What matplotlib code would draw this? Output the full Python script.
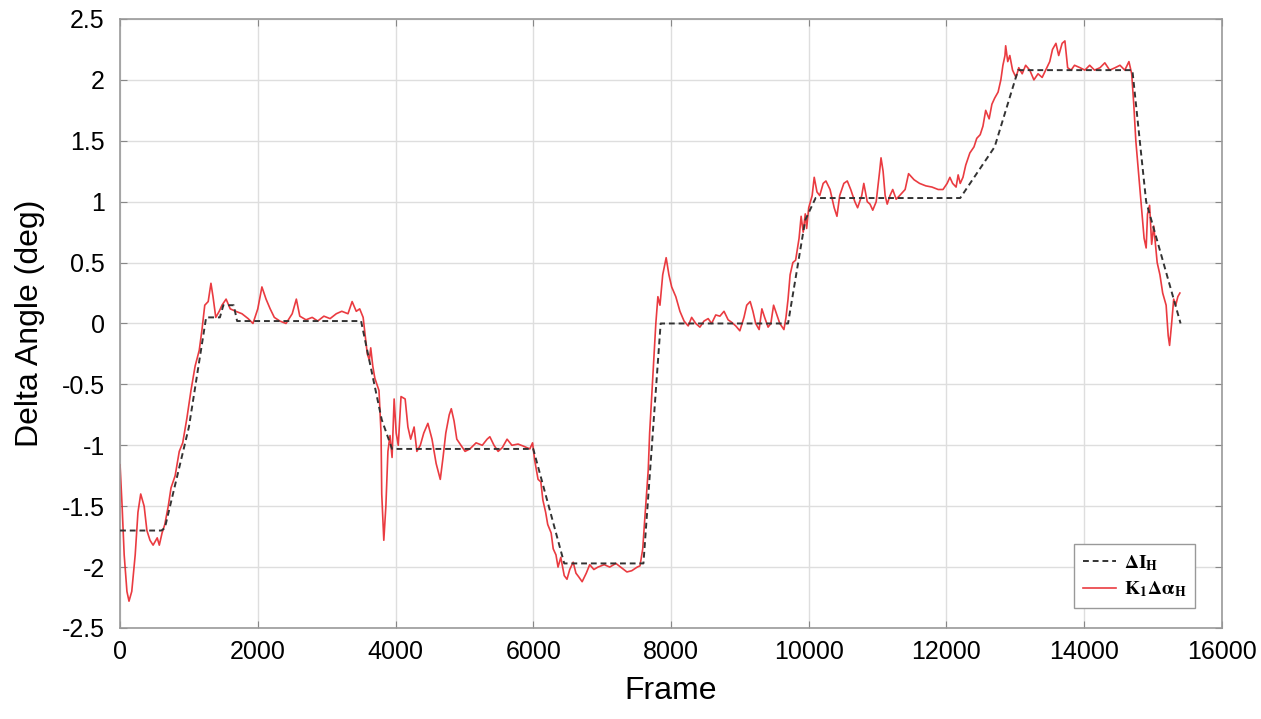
import numpy as np
import matplotlib
matplotlib.use('Agg')
import matplotlib.pyplot as plt

# Reference angle (dashed) breakpoints
ref_frames = [0, 600, 650, 1000, 1250, 1450, 1500, 1650, 1700, 3500, 3800, 3950,
              6000, 6450, 7600, 7850, 9700, 9950, 10100, 12200, 12700, 13040,
              14700, 14900, 15100, 15400]
ref_values = [-1.70, -1.70, -1.68, -0.85, 0.05, 0.05, 0.15, 0.15, 0.02, 0.02, -0.79, -1.03,
              -1.03, -1.97, -1.97, 0.0, 0.0, 0.85, 1.03, 1.03, 1.45, 2.08,
              2.08, 1.0, 0.6, 0.0]

meas_frames = [0, 30, 60, 100, 130, 170, 220, 260, 300, 350, 390, 435, 480, 540, 570, 610,
               650, 700, 740, 800, 860, 910, 970, 1030, 1090, 1150, 1190, 1230, 1280, 1320,
               1350, 1390, 1440, 1480, 1540, 1600, 1680, 1770, 1860, 1930, 2000, 2060, 2120,
               2180, 2240, 2320, 2410, 2500, 2560, 2610, 2700, 2790, 2870, 2960, 3050, 3140,
               3220, 3310, 3370, 3430, 3480, 3530, 3560, 3590, 3620, 3640, 3670, 3700, 3730,
               3760, 3790, 3800, 3830, 3860, 3890, 3920, 3950, 3980, 4010, 4040, 4080, 4140,
               4180, 4220, 4270, 4310, 4360, 4410, 4470, 4530, 4590, 4650, 4690, 4730, 4780,
               4810, 4850, 4890, 4950, 5010, 5080, 5170, 5260, 5330, 5370, 5430, 5490, 5550,
               5620, 5690, 5780, 5870, 5950, 5990, 6020, 6070, 6110, 6140, 6180, 6210, 6260,
               6290, 6330, 6360, 6400, 6450, 6490, 6530, 6580, 6620, 6660, 6710, 6770, 6820,
               6880, 6940, 7030, 7110, 7200, 7290, 7360, 7430, 7510, 7550, 7590, 7620, 7670,
               7690, 7720, 7750, 7780, 7810, 7840, 7880, 7930, 7970, 8010, 8070, 8130, 8190,
               8250, 8300, 8360, 8420, 8480, 8540, 8590, 8650, 8710, 8770, 8830, 8880, 8940,
               9000, 9060, 9100, 9150, 9190, 9230, 9280, 9320, 9360, 9410, 9450, 9490, 9580,
               9640, 9670, 9700, 9730, 9770, 9810, 9860, 9890, 9920, 9950, 9970, 10000, 10050,
               10080, 10120, 10160, 10210, 10250, 10310, 10370, 10410, 10450, 10510, 10560,
               10610, 10670, 10710, 10770, 10800, 10850, 10890, 10930, 10980, 11000, 11030,
               11050, 11080, 11110, 11140, 11180, 11220, 11270, 11320, 11400, 11450, 11530,
               11610, 11700, 11790, 11880, 11950, 12010, 12050, 12090, 12140, 12170, 12200,
               12240, 12280, 12340, 12400, 12440, 12490, 12530, 12570, 12620, 12660, 12700,
               12750, 12790, 12820, 12850, 12860, 12890, 12920, 12960, 13010, 13050, 13100,
               13150, 13210, 13270, 13330, 13390, 13440, 13500, 13540, 13590, 13630, 13680,
               13720, 13760, 13810, 13860, 13940, 14010, 14080, 14150, 14230, 14300, 14370,
               14450, 14520, 14590, 14650, 14690, 14720, 14750, 14780, 14810, 14840, 14870,
               14900, 14920, 14950, 14980, 15010, 15060, 15100, 15140, 15190, 15220, 15240,
               15270, 15300, 15330, 15360, 15390]
meas_values = [-1.16, -1.5, -1.9, -2.2, -2.28, -2.2, -1.9, -1.55, -1.40, -1.5, -1.7, -1.78,
               -1.82, -1.76, -1.82, -1.72, -1.65, -1.5, -1.35, -1.25, -1.05, -0.98, -0.78,
               -0.55, -0.35, -0.22, -0.05, 0.15, 0.18, 0.33, 0.22, 0.05, 0.1, 0.15, 0.2, 0.12,
               0.1, 0.08, 0.04, 0.0, 0.12, 0.3, 0.2, 0.12, 0.05, 0.02, 0.0, 0.08, 0.2, 0.06,
               0.03, 0.05, 0.02, 0.06, 0.04, 0.08, 0.1, 0.08, 0.18, 0.1, 0.12, 0.05, -0.1,
               -0.25, -0.3, -0.2, -0.35, -0.45, -0.5, -0.55, -0.9, -1.4, -1.78, -1.5, -1.05,
               -0.92, -1.1, -0.62, -0.9, -1.0, -0.6, -0.62, -0.85, -0.95, -0.85, -1.05, -1.0,
               -0.9, -0.82, -0.95, -1.15, -1.28, -1.1, -0.9, -0.75, -0.7, -0.8, -0.95, -1.0,
               -1.05, -1.03, -0.98, -1.0, -0.95, -0.93, -1.0, -1.05, -1.02, -0.95, -1.0, -0.99,
               -1.01, -1.03, -0.98, -1.12, -1.28, -1.3, -1.45, -1.55, -1.65, -1.72, -1.85,
               -1.9, -2.0, -1.92, -2.07, -2.1, -2.02, -1.96, -2.05, -2.08, -2.12, -2.05, -1.98,
               -2.02, -2.0, -1.98, -2.0, -1.97, -2.01, -2.04, -2.03, -2.0, -1.99, -1.85, -1.6,
               -1.2, -0.9, -0.6, -0.3, 0.0, 0.22, 0.15, 0.4, 0.54, 0.4, 0.3, 0.22, 0.1, 0.02,
               -0.02, 0.05, 0.0, -0.03, 0.02, 0.04, 0.0, 0.07, 0.06, 0.1, 0.03, 0.01, -0.02,
               -0.06, 0.05, 0.15, 0.18, 0.1, 0.0, -0.05, 0.12, 0.05, -0.03, 0.0, 0.15, 0.0,
               -0.05, 0.05, 0.2, 0.4, 0.5, 0.52, 0.7, 0.88, 0.75, 0.9, 0.78, 0.95, 1.05, 1.2,
               1.08, 1.05, 1.15, 1.17, 1.1, 0.95, 0.88, 1.05, 1.15, 1.17, 1.1, 1.0, 0.95, 1.05,
               1.15, 1.0, 0.98, 0.93, 1.0, 1.1, 1.25, 1.36, 1.25, 1.05, 0.98, 1.05, 1.1, 1.02,
               1.05, 1.1, 1.23, 1.18, 1.15, 1.13, 1.12, 1.1, 1.1, 1.15, 1.2, 1.15, 1.12, 1.22,
               1.15, 1.2, 1.3, 1.4, 1.45, 1.52, 1.55, 1.62, 1.75, 1.68, 1.8, 1.85, 1.9, 2.0,
               2.12, 2.2, 2.28, 2.15, 2.2, 2.08, 2.02, 2.1, 2.05, 2.12, 2.08, 2.0, 2.05, 2.02,
               2.08, 2.15, 2.25, 2.3, 2.2, 2.3, 2.32, 2.1, 2.08, 2.12, 2.1, 2.08, 2.12, 2.08,
               2.1, 2.14, 2.08, 2.1, 2.12, 2.08, 2.15, 2.05, 1.8, 1.5, 1.3, 1.1, 0.9, 0.7, 0.62,
               0.9, 0.97, 0.65, 0.8, 0.5, 0.4, 0.25, 0.15, -0.1, -0.18, 0.0, 0.2, 0.15, 0.22,
               0.25]

x_ticks = [0, 2000, 4000, 6000, 8000, 10000, 12000, 14000, 16000]
y_ticks = [-2.5, -2, -1.5, -1, -0.5, 0, 0.5, 1, 1.5, 2, 2.5]
y_labels = ['-2.5', '-2', '-1.5', '-1', '-0.5', '0', '0.5', '1', '1.5', '2', '2.5']

plt.rcParams['font.family'] = ['Liberation Sans', 'DejaVu Sans']
plt.rcParams['mathtext.fontset'] = 'stix'

fig = plt.figure(figsize=(12.61, 7.19), dpi=100)
ax = fig.add_axes([0.0952, 0.1266, 0.8738, 0.847])

ax.plot(ref_frames, ref_values, color='#333333', linestyle=(0, (3, 2)), linewidth=1.4,
        label=r'$\mathbf{\Delta I_H}$', zorder=3)
ax.plot(meas_frames, meas_values, color='#e8262c', linewidth=1.2, alpha=0.9,
        label=r'$\mathbf{K_1 \Delta \alpha_H}$', zorder=2)

ax.set_xlim(0, 16000)
ax.set_ylim(-2.5, 2.5)
ax.set_xticks(x_ticks)
ax.set_yticks(y_ticks)
ax.set_yticklabels(y_labels)
ax.grid(True, color='#dedede', linewidth=1.0)
ax.set_axisbelow(True)
for s in ax.spines.values():
    s.set_color('#9a9a9a')
    s.set_linewidth(1.2)
ax.tick_params(direction='in', length=5, color='#888888', labelsize=18,
               top=True, right=True)
ax.tick_params(axis='x', pad=9)
ax.tick_params(axis='y', pad=11)

ax.set_xlabel('Frame', fontsize=23, labelpad=8)
ax.set_ylabel('Delta Angle (deg)', fontsize=23, labelpad=12)

leg = ax.legend(loc='lower right', bbox_to_anchor=(0.9755, 0.033), borderaxespad=0,
                fontsize=14, fancybox=False, framealpha=1, edgecolor='#999999',
                handlelength=1.7, handletextpad=0.4, borderpad=0.45, labelspacing=0.35)
leg.get_frame().set_linewidth(1.0)

fig.savefig('out.png', dpi=100)
